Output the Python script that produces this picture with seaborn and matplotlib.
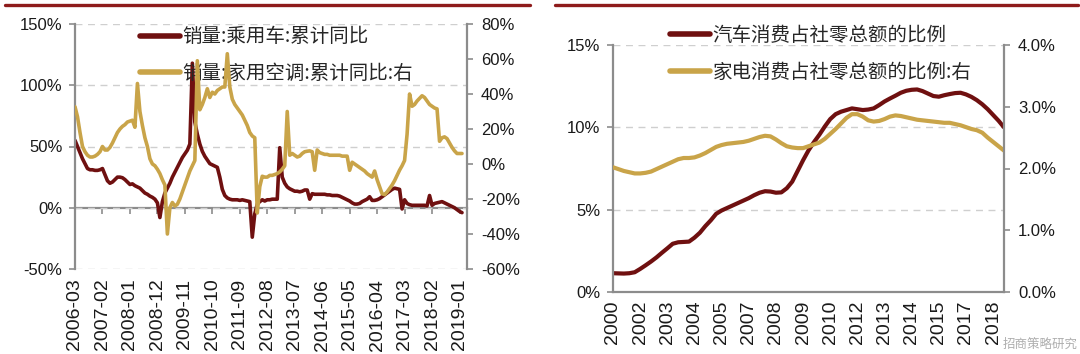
import matplotlib
matplotlib.use('Agg')
import matplotlib.pyplot as plt
import matplotlib.ticker as mtick
from matplotlib.lines import Line2D
import pandas as pd
import seaborn as sns

# ---- left chart: monthly cumulative YoY, 2006-03 onwards ----
months = pd.period_range('2006-03', periods=156, freq='M')
car_sales_yoy = [
    55, 50, 45, 40, 36, 32, 31, 31, 30.5, 30.5,
    31, 32, 27, 22, 20, 21, 23, 25, 25, 24.5, 23, 21,
    19, 19.5, 18, 17, 16, 14, 12, 11, 9.5, 8.5, 7, 4,
    -8, 5, 12, 16, 20, 25, 29, 33, 37, 41, 44, 47,
    52, 118, 70, 60, 52, 46, 42, 39, 36, 35, 34, 33,
    25, 15, 10, 8, 7, 6.5, 6.5, 6.5, 6, 6.5, 6, 5.5,
    5, -24, -5, 3, 5, 6.5, 5.5, 6.5, 6.5, 7, 7, 7,
    49, 25, 20, 17, 15.5, 14.5, 13.5, 13.5, 13, 13.5, 14.5, 14.5,
    7, 11.5, 11, 11, 11, 11, 11, 10.5, 10.5, 10, 10, 10,
    9.5, 8.5, 7.5, 6.5, 5.5, 4, 3, 3, 3.5, 5, 6, 7,
    9, 6, 6, 6.5, 7.5, 9, 10.5, 12, 13.5, 15, 16, 15.5,
    15, -1, 6.5, 3.5, 2.5, 2, 2, 2, 2, 2, 2, 1.5,
    10, 2, 3.5, 4, 4.5, 5, 4, 3, 2, 1, 0, -1.5,
    -3, -4,
]
ac_sales_yoy = [
    32.7, 27, 18, 10, 7, 5, 4, 4, 4.5, 5.5,
    7, 10, 8, 8, 9.5, 12, 15, 18, 20, 21.5, 22.5, 24,
    24.5, 25, 21, 46, 30, 22, 15, 10, 3, 0, -1, -3,
    -5.5, -9, -12, -40, -25, -22, -24, -23, -20, -16, -12, -8,
    -4, -1, 2, 59, 31, 34, 38, 43, 38, 41, 40, 42,
    43, 44, 44, 63, 44, 37, 34, 32, 30, 28, 25, 22,
    18, 16, 15, -28, -13, -7, -7.5, -7.5, -6.5, -6.5, -6, -5.5,
    -4.5, -3, -1, 30, 5, 6, 5, 4, 4.5, 6, 7, 7.3,
    7.5, 7, -3.6, 8, 6.5, 6, 5.5, 5.5, 5, 5, 5, 5,
    5, 4.5, 4.5, 4.5, -3.6, 1, 0, -1, -2, -3, -4, -5.5,
    -6.5, -7.5, -4, -9, -13, -17, -17.5, -16, -14, -12, -9.5, -6.5,
    -3.5, -1, 2, 17, 40, 33, 34, 36, 37.5, 39, 38, 36,
    34, 33, 32, 31.5, 13, 15, 15.5, 14.5, 12, 9.5, 7.5, 6,
    6, 6,
]

# ---- right chart: quarterly share of total retail sales, 2000Q4 onwards ----
quarters = pd.period_range('2000Q4', periods=73, freq='Q')
car_share = [
    1.14, 1.13, 1.12, 1.14, 1.2, 1.4, 1.62, 1.85, 2.1, 2.38,
    2.65, 2.93, 3.02, 3.04, 3.06, 3.3, 3.6, 4.0, 4.35, 4.75,
    4.95, 5.1, 5.25, 5.4, 5.55, 5.7, 5.88, 6.03, 6.12, 6.1,
    6.03, 6.05, 6.3, 6.7, 7.35, 8.0, 8.6, 9.1, 9.55, 10.05,
    10.5, 10.8, 10.95, 11.05, 11.15, 11.1, 11.05, 11.08, 11.15, 11.35,
    11.57, 11.75, 11.92, 12.1, 12.22, 12.28, 12.3, 12.2, 12.05, 11.9,
    11.86, 11.95, 12.02, 12.08, 12.1, 12.0, 11.85, 11.65, 11.4, 11.1,
    10.75, 10.4, 10.0,
]
appliance_share = [
    2.02, 1.99, 1.96, 1.94, 1.92, 1.92, 1.93, 1.95, 1.99, 2.03,
    2.07, 2.11, 2.15, 2.17, 2.17, 2.18, 2.21, 2.25, 2.3, 2.35,
    2.38, 2.4, 2.41, 2.42, 2.43, 2.45, 2.48, 2.51, 2.53, 2.52,
    2.47, 2.41, 2.36, 2.34, 2.33, 2.33, 2.36, 2.39, 2.42, 2.48,
    2.56, 2.64, 2.73, 2.82, 2.88, 2.88, 2.84, 2.78, 2.76, 2.77,
    2.8, 2.84, 2.86, 2.85, 2.83, 2.81, 2.79, 2.78, 2.77, 2.76,
    2.75, 2.74, 2.74, 2.72, 2.7, 2.67, 2.64, 2.62, 2.58, 2.5,
    2.43, 2.36, 2.29,
]

left_labels = ['销量:乘用车:累计同比', '销量:家用空调:累计同比:右']
right_labels = ['汽车消费占社零总额的比例', '家电消费占社零总额的比例:右']

RED = '#6f1010'
GOLD = '#c9a449'
GRAY = '#8c8c8c'
GRID = '#cfcfcf'
RULE = '#8e1b1b'

sns.set_style('white')
plt.rcParams['font.family'] = ['Liberation Sans', 'Noto Sans CJK SC', 'DejaVu Sans']
plt.rcParams['axes.unicode_minus'] = False

W, H = 1080, 354
fig = plt.figure(figsize=(W / 100, H / 100), dpi=100)


def box(x0, y0, x1, y1):
    return [x0 / W, 1 - y1 / H, (x1 - x0) / W, (y1 - y0) / H]


def style_axes(ax, ax2, bottom_visible):
    ax.spines['top'].set_visible(False)
    ax.spines['right'].set_visible(False)
    ax.spines['bottom'].set_visible(bottom_visible)
    ax.spines['left'].set_color(GRAY)
    ax.spines['left'].set_linewidth(1.6)
    ax.spines['bottom'].set_color(GRAY)
    ax.spines['bottom'].set_linewidth(1.6)
    for s in ['top', 'left', 'bottom']:
        ax2.spines[s].set_visible(False)
    ax2.spines['right'].set_color(GRAY)
    ax2.spines['right'].set_linewidth(1.6)
    ax.tick_params(axis='y', direction='out', length=4, width=1.2,
                   color=GRAY, labelsize=12, labelcolor='#1a1a1a', pad=5)
    ax2.tick_params(axis='y', direction='out', length=4, width=1.2,
                    color=GRAY, labelsize=12, labelcolor='#1a1a1a', pad=6)
    ax.yaxis.grid(True, linestyle=(0, (5, 4)), color=GRID, linewidth=1)
    ax.xaxis.grid(False)
    ax.set_xlabel('')
    ax.set_ylabel('')
    ax2.set_ylabel('')


# ---------------- left chart ----------------
df_l = pd.DataFrame({'i': range(len(months)), 'car': car_sales_yoy, 'ac': ac_sales_yoy})
ax1 = fig.add_axes(box(75, 24, 467, 269))
ax1b = ax1.twinx()
sns.lineplot(data=df_l, x='i', y='car', ax=ax1, color=RED, linewidth=2.6, legend=False)
sns.lineplot(data=df_l, x='i', y='ac', ax=ax1b, color=GOLD, linewidth=2.6, legend=False)
ax1.set_xlim(0, 157)
ax1.set_ylim(-50, 150)
ax1b.set_ylim(-60, 80)
ax1.set_yticks([-50, 0, 50, 100, 150])
ax1b.set_yticks(range(-60, 81, 20))
ax1.yaxis.set_major_formatter(mtick.PercentFormatter(decimals=0))
ax1b.yaxis.set_major_formatter(mtick.PercentFormatter(decimals=0))
style_axes(ax1, ax1b, bottom_visible=False)

lt = list(range(0, len(months), 11))
ax1.set_xticks(lt)
ax1.set_xticklabels([months[i].strftime('%Y-%m') for i in lt], rotation=90)
ax1.tick_params(axis='x', length=0, labelsize=14, labelcolor='#1a1a1a', pad=7)
# zero line with tick marks
zero_ax = ax1.secondary_xaxis(0.25)
zero_ax.set_xticks(lt)
zero_ax.set_xticklabels([])
zero_ax.tick_params(axis='x', direction='out', length=4, width=1.2, color=GRAY)
zero_ax.spines['bottom'].set_color(GRAY)
zero_ax.spines['bottom'].set_linewidth(1.6)

h1 = [Line2D([], [], color=RED, lw=4), Line2D([], [], color=GOLD, lw=4)]
ax1.legend(h1, left_labels, loc='upper left', bbox_to_anchor=(0.14, 1.03),
           frameon=False, handlelength=2.1, handletextpad=0.1,
           labelspacing=0.8, borderpad=0,
           prop={'family': ['Noto Sans CJK SC', 'DejaVu Sans'], 'size': 14})

# ---------------- right chart ----------------
df_r = pd.DataFrame({'i': range(len(quarters)), 'car': car_share, 'app': appliance_share})
ax2 = fig.add_axes(box(613, 45, 1004, 292))
ax2b = ax2.twinx()
sns.lineplot(data=df_r, x='i', y='car', ax=ax2, color=RED, linewidth=3, legend=False)
sns.lineplot(data=df_r, x='i', y='app', ax=ax2b, color=GOLD, linewidth=3, legend=False)
ax2.set_xlim(0, len(quarters) - 1)
ax2.set_ylim(0, 15)
ax2b.set_ylim(0, 4)
ax2.set_yticks([0, 5, 10, 15])
ax2b.set_yticks([0, 1, 2, 3, 4])
ax2.yaxis.set_major_formatter(mtick.PercentFormatter(decimals=0))
ax2b.yaxis.set_major_formatter(mtick.PercentFormatter(decimals=1))
style_axes(ax2, ax2b, bottom_visible=True)

rt = list(range(0, len(quarters), 5))
ax2.set_xticks(rt)
ax2.set_xticklabels([str(quarters[i].year) for i in rt], rotation=90)
ax2.tick_params(axis='x', direction='out', length=4, width=1.2, color=GRAY,
                labelsize=14, labelcolor='#1a1a1a', pad=2)

h2 = [Line2D([], [], color=RED, lw=4), Line2D([], [], color=GOLD, lw=4)]
ax2.legend(h2, right_labels, loc='upper left', bbox_to_anchor=(0.12, 1.12),
           frameon=False, handlelength=2.1, handletextpad=0.1,
           labelspacing=0.8, borderpad=0,
           prop={'family': ['Noto Sans CJK SC', 'DejaVu Sans'], 'size': 14})

# header rules
fig.add_artist(Line2D([5 / W, 530 / W], [1 - 5 / H] * 2, color=RULE, lw=2.4))
fig.add_artist(Line2D([555 / W, 1078 / W], [1 - 5 / H] * 2, color=RULE, lw=2.4))

# watermark, kept clear of the tick labels
fig.text(1078 / W, 1 - 344 / H, '招商策略研究', fontsize=9, color='#9a9a9a', alpha=0.8,
         family=['Noto Sans CJK SC', 'DejaVu Sans'], va='center', ha='right')

fig.savefig('out.png', dpi=100)
